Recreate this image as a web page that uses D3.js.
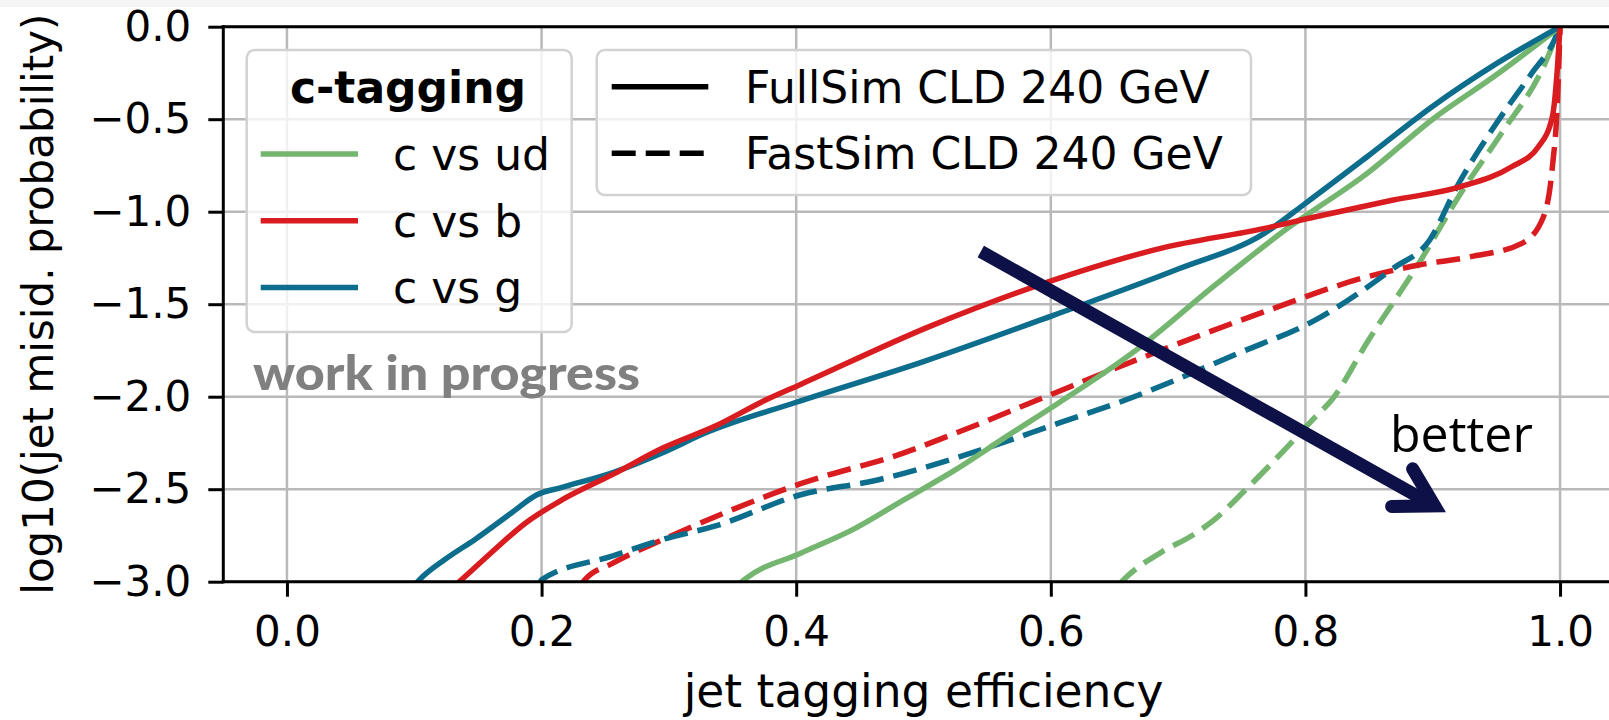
<!DOCTYPE html>
<html>
<head>
<meta charset="utf-8">
<script src="https://cdn.jsdelivr.net/npm/d3@7"></script>
<style>
    html, body { margin: 0; padding: 0; background: #fff; }
    svg { display: block; }
</style>
</head>
<body>
<div id="chart"></div>
<script>
// tick values
const xTicks = [0, 0.2, 0.4, 0.6, 0.8, 1.0];
const yTicks = [0, -0.5, -1, -1.5, -2, -2.5, -3];

// legend entries
const flavours = ['c vs ud', 'c vs b', 'c vs g'];
const simLabels = ['FullSim CLD 240 GeV', 'FastSim CLD 240 GeV'];

// [jet tagging efficiency, log10(misid. probability)]
const fullUd = [[0.354, -3.02], [0.36, -2.985], [0.4035, -2.846], [0.444, -2.72], [0.4845, -2.558], [0.525, -2.396],
    [0.565, -2.216], [0.607, -2.03], [0.667, -1.748], [0.7275, -1.405], [0.784, -1.099], [0.849, -0.79],
    [0.9, -0.5], [0.95, -0.26], [1.0, 0]];
const fullB = [[0.132, -3.02], [0.137, -2.99], [0.16, -2.846], [0.188, -2.68], [0.216, -2.558], [0.256, -2.42],
    [0.296, -2.275], [0.336, -2.16], [0.376, -2.018], [0.403, -1.935], [0.505, -1.62], [0.602, -1.37],
    [0.687, -1.197], [0.768, -1.09], [0.808, -1.027], [0.869, -0.937], [0.922, -0.865], [0.962, -0.757],
    [0.983, -0.649], [0.994, -0.486], [0.998, -0.216], [1.0, 0]];
const fullG = [[0.1, -3.02], [0.104, -2.99], [0.124, -2.88], [0.148, -2.77], [0.176, -2.63], [0.196, -2.531],
    [0.216, -2.49], [0.256, -2.41], [0.296, -2.3], [0.328, -2.198], [0.4, -2.03], [0.5, -1.81], [0.602, -1.56],
    [0.7, -1.31], [0.768, -1.116], [0.8, -0.955], [0.849, -0.70], [0.9, -0.43], [0.95, -0.2], [1.0, 0]];
const fastUd = [[0.653, -3.02], [0.6586, -2.98], [0.687, -2.84], [0.711, -2.75], [0.7275, -2.67], [0.752, -2.51],
    [0.776, -2.342], [0.808, -2.108], [0.8206, -2.018], [0.849, -1.70], [0.889, -1.28], [0.922, -0.9],
    [0.954, -0.576], [0.987, -0.216], [1.0, 0]];
const fastB = [[0.231, -3.02], [0.234, -2.99], [0.256, -2.9], [0.296, -2.77], [0.336, -2.65], [0.4035, -2.47],
    [0.484, -2.305], [0.525, -2.198], [0.5895, -2.018], [0.687, -1.748], [0.768, -1.54], [0.849, -1.351],
    [0.889, -1.288], [0.93, -1.243], [0.97, -1.171], [0.987, -1.027], [0.994, -0.757], [0.998, -0.396], [1.0, 0]];
const fastG = [[0.198, -3.02], [0.2, -2.99], [0.256, -2.86], [0.296, -2.77], [0.336, -2.70], [0.4035, -2.53],
    [0.464, -2.45], [0.545, -2.288], [0.606, -2.143], [0.6586, -2.018], [0.747, -1.766], [0.808, -1.585],
    [0.869, -1.306], [0.8976, -1.153], [0.919, -0.865], [0.95, -0.522], [0.978, -0.25], [0.995, -0.08], [1.0, 0]];

// "better" arrow, from / to in data units
const arrowFrom = [0.545, -1.215];
const arrowTo = [0.9015, -2.59];

class Chart {
    constructor() {
        const attrs = {
            container: '#chart',
            svgWidth: 1609,
            svgHeight: 720,
            marginLeft: 223.3,
            marginRight: -14.7,
            marginTop: 26.7,
            marginBottom: 138.3,
            xDomain: [-0.05, 1.05],
            yDomain: [-3, 0],
            colors: ['#74b66f', '#d91c1f', '#0d6d8c'],
            arrowColor: '#0d1147',
            defaultFont: 'DejaVu Sans',
            fontSize: 42,
            xLabelSize: 45.5,
            legendFontSize: 44,
            lineWidth: 5.5,
            dash: '24,10'
        };
        this.getState = () => attrs;
        this.setState = (d) => Object.assign(attrs, d);
    }

    render() {
        this.calculateProperties();
        this.drawSvg();
        this.drawGrid();
        this.drawCurves();
        this.drawAxes();
        this.drawLegends();
        this.drawNotes();
        return this;
    }

    calculateProperties() {
        const { svgWidth, svgHeight, marginLeft, marginRight, marginTop, marginBottom, xDomain, yDomain } = this.getState();
        const chartWidth = svgWidth - marginLeft - marginRight;
        const chartHeight = svgHeight - marginTop - marginBottom;
        const x = d3.scaleLinear().domain(xDomain).range([0, chartWidth]);
        const y = d3.scaleLinear().domain(yDomain).range([chartHeight, 0]);
        this.setState({ chartWidth, chartHeight, x, y });
    }

    drawSvg() {
        const { container, svgWidth, svgHeight, defaultFont, marginLeft, marginTop, chartWidth, chartHeight } = this.getState();
        const svg = d3.select(container).append('svg')
            .attr('width', svgWidth)
            .attr('height', svgHeight)
            .attr('font-family', defaultFont);

        // faint strip along the top edge of the picture
        svg.append('rect')
            .attr('width', svgWidth).attr('height', 7)
            .attr('fill', '#f5f5f5');

        svg.append('defs').append('clipPath').attr('id', 'plot-clip')
            .append('rect')
            .attr('width', chartWidth).attr('height', chartHeight);

        const chart = svg.append('g')
            .attr('transform', `translate(${marginLeft},${marginTop})`);
        this.setState({ svg, chart });
    }

    drawGrid() {
        const { chart, x, y, chartWidth, chartHeight } = this.getState();
        const grid = chart.append('g').attr('class', 'grid')
            .attr('stroke', '#b9b9b9').attr('stroke-width', 2.5);
        grid.selectAll('.vgrid').data(xTicks).join('line')
            .attr('class', 'vgrid')
            .attr('x1', d => x(d)).attr('x2', d => x(d))
            .attr('y1', 0).attr('y2', chartHeight);
        grid.selectAll('.hgrid').data(yTicks).join('line')
            .attr('class', 'hgrid')
            .attr('x1', 0).attr('x2', chartWidth)
            .attr('y1', d => y(d)).attr('y2', d => y(d));
    }

    drawCurves() {
        const { chart, x, y, colors, lineWidth, dash } = this.getState();
        const series = [
            { values: fastUd, flavour: 0, fast: true },
            { values: fastB, flavour: 1, fast: true },
            { values: fastG, flavour: 2, fast: true },
            { values: fullUd, flavour: 0, fast: false },
            { values: fullG, flavour: 2, fast: false },
            { values: fullB, flavour: 1, fast: false }
        ];
        const line = d3.line()
            .x(d => x(d[0]))
            .y(d => y(d[1]))
            .curve(d3.curveMonotoneX);

        chart.append('g').attr('clip-path', 'url(#plot-clip)')
            .selectAll('path').data(series).join('path')
            .attr('d', d => line(d.values))
            .attr('fill', 'none')
            .attr('stroke', d => colors[d.flavour])
            .attr('stroke-width', lineWidth)
            .attr('stroke-linejoin', 'round')
            .attr('stroke-dasharray', d => d.fast ? dash : null);
    }

    drawAxes() {
        const { chart, x, y, chartWidth, chartHeight, fontSize, xLabelSize } = this.getState();
        const fmt = d3.format('.1f');

        const xAxis = chart.append('g')
            .attr('transform', `translate(0,${chartHeight})`)
            .call(d3.axisBottom(x).tickValues(xTicks).tickFormat(fmt).tickSize(15).tickPadding(19));
        const yAxis = chart.append('g')
            .call(d3.axisLeft(y).tickValues(yTicks).tickFormat(fmt).tickSize(15).tickPadding(17));

        [xAxis, yAxis].forEach(axis => {
            axis.select('.domain').remove();
            axis.selectAll('.tick line').attr('stroke', '#000').attr('stroke-width', 3);
            axis.selectAll('.tick text')
                .attr('fill', '#000')
                .attr('font-size', fontSize)
                .attr('font-family', 'DejaVu Sans');
        });

        // spines
        const spines = chart.append('g').attr('stroke', '#000').attr('stroke-width', 3);
        spines.append('line').attr('x1', 0).attr('x2', 0).attr('y1', -1.5).attr('y2', chartHeight + 1.5);
        spines.append('line').attr('x1', chartWidth).attr('x2', chartWidth).attr('y1', -1.5).attr('y2', chartHeight + 1.5);
        spines.append('line').attr('x1', -1.5).attr('x2', chartWidth + 1.5).attr('y1', 0).attr('y2', 0);
        spines.append('line').attr('x1', -1.5).attr('x2', chartWidth + 1.5).attr('y1', chartHeight).attr('y2', chartHeight);

        chart.append('text')
            .attr('x', chartWidth / 2)
            .attr('y', chartHeight + 125.5)
            .attr('text-anchor', 'middle')
            .attr('font-size', xLabelSize)
            .text('jet tagging efficiency');

        chart.append('text')
            .attr('transform', `translate(-170,${chartHeight / 2}) rotate(-90)`)
            .attr('text-anchor', 'middle')
            .attr('font-size', fontSize)
            .text('log10(jet misid. probability)');
    }

    drawLegends() {
        const { svg, colors, legendFontSize, lineWidth, dash } = this.getState();

        // flavour legend
        const lg1 = svg.append('g').attr('class', 'legend-flavour');
        lg1.append('rect')
            .attr('x', 246.7).attr('y', 50).attr('width', 325).attr('height', 282)
            .attr('rx', 8)
            .attr('fill', 'rgba(255,255,255,0.8)')
            .attr('stroke', '#d2d2d2').attr('stroke-width', 2.5);
        lg1.append('text')
            .attr('x', 408).attr('y', 103)
            .attr('text-anchor', 'middle')
            .attr('font-weight', 'bold')
            .attr('font-size', legendFontSize)
            .text('c-tagging');
        const rows1 = lg1.selectAll('.row').data(flavours).join('g')
            .attr('class', 'row')
            .attr('transform', (d, i) => `translate(0,${154 + i * 66.7})`);
        rows1.append('line')
            .attr('x1', 260.7).attr('x2', 358)
            .attr('stroke', (d, i) => colors[i])
            .attr('stroke-width', lineWidth);
        rows1.append('text')
            .attr('x', 393).attr('y', 16)
            .attr('font-size', legendFontSize)
            .text(d => d);

        // simulation legend
        const lg2 = svg.append('g').attr('class', 'legend-sim');
        lg2.append('rect')
            .attr('x', 596.7).attr('y', 50).attr('width', 654.3).attr('height', 145)
            .attr('rx', 8)
            .attr('fill', 'rgba(255,255,255,0.8)')
            .attr('stroke', '#d2d2d2').attr('stroke-width', 2.5);
        const rows2 = lg2.selectAll('.row').data(simLabels).join('g')
            .attr('class', 'row')
            .attr('transform', (d, i) => `translate(0,${86.7 + i * 66.6})`);
        rows2.append('line')
            .attr('x1', 611.7).attr('x2', 708.3)
            .attr('stroke', '#000')
            .attr('stroke-width', lineWidth)
            .attr('stroke-dasharray', (d, i) => i === 1 ? dash : null);
        rows2.append('text')
            .attr('x', 745).attr('y', 16)
            .attr('font-size', legendFontSize)
            .text(d => d);
    }

    drawNotes() {
        const { chart, x, y, arrowColor } = this.getState();

        chart.append('text')
            .attr('x', 253 - 223.3).attr('y', 390 - 26.7)
            .attr('font-family', 'Lato')
            .attr('font-weight', 900)
            .attr('font-size', 48)
            .attr('textLength', 387)
            .attr('lengthAdjust', 'spacingAndGlyphs')
            .attr('fill', '#808080')
            .text('work in progress');

        chart.append('text')
            .attr('x', 1390 - 223.3).attr('y', 451.7 - 26.7)
            .attr('font-family', 'Open Sans')
            .attr('font-size', 50)
            .attr('fill', '#000')
            .text('better');

        // arrow: straight shaft and an open head
        const x0 = x(arrowFrom[0]), y0 = y(arrowFrom[1]);
        const x1 = x(arrowTo[0]), y1 = y(arrowTo[1]);
        const ang = Math.atan2(y0 - y1, x0 - x1);
        const headLen = 43, spread = Math.PI / 6;
        const arm = a => [x1 + headLen * Math.cos(a), y1 + headLen * Math.sin(a)];
        const a1 = arm(ang - spread), a2 = arm(ang + spread);

        const arrow = chart.append('g').attr('stroke', arrowColor).attr('fill', 'none').attr('stroke-width', 13);
        arrow.append('line')
            .attr('x1', x0).attr('y1', y0).attr('x2', x1).attr('y2', y1);
        arrow.append('path')
            .attr('d', `M${a1[0]},${a1[1]}L${x1},${y1}L${a2[0]},${a2[1]}`)
            .attr('stroke-linecap', 'round')
            .attr('stroke-linejoin', 'miter')
            .attr('stroke-miterlimit', 10);
    }
}

new Chart().render();
</script>
</body>
</html>
